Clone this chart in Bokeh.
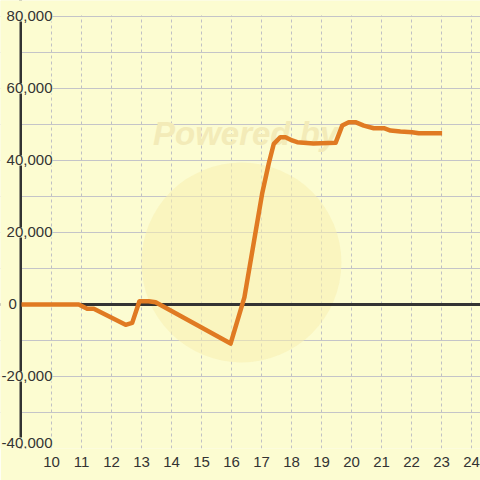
from bokeh.plotting import figure
from bokeh.models import Range1d, FixedTicker, Label, ColumnDataSource
from bokeh.embed import file_html
from bokeh.resources import INLINE

# ---- data ----
hours = [9.0, 10.91, 11.19, 11.41, 12.47, 12.69, 12.93, 13.24, 13.47, 15.97,
         16.43, 17.02, 17.24, 17.41, 17.63, 17.8, 18.02, 18.19, 18.73, 19.47,
         19.69, 19.91, 20.13, 20.41, 20.74, 21.08, 21.3, 21.63, 22.02, 22.24, 23.02]
values = [0, 0, -1200, -1200, -5650, -5100, 900, 900, 600, -10850,
          2000, 30750, 39080, 44640, 46470, 46470, 45560, 45080, 44700, 44900,
          49700, 50640, 50640, 49700, 48970, 48970, 48330, 48060, 47860, 47580, 47580]
x_ticks = list(range(10, 25))
y_label_ticks = [80000, 60000, 40000, 20000, 0, -20000, -40000]
y_grid_ticks = list(range(-40000, 80001, 10000))

BG = "#fcfcd1"
INK = "#333333"
FONT = "Liberation Sans"
X_MIN, X_MAX = 8.3, 24.3
Y_MIN, Y_MAX = -40000, 84444
AXIS_X = 8.983   # where the vertical axis line sits (data units)
Y_TOP = 80000

p = figure(width=480, height=480, output_backend="svg", toolbar_location=None,
           x_range=Range1d(X_MIN, X_MAX), y_range=Range1d(Y_MIN, Y_MAX),
           y_axis_location=None,
           min_border_left=0, min_border_right=0, min_border_top=0, min_border_bottom=32)
p.background_fill_color = BG
p.border_fill_color = BG
p.outline_line_color = None

# grids
p.ygrid.ticker = FixedTicker(ticks=y_grid_ticks)
p.ygrid.grid_line_color = "#c4c4c8"
p.ygrid.grid_line_width = 1
p.xgrid.ticker = FixedTicker(ticks=x_ticks)
p.xgrid.grid_line_color = "#c0c0c4"
p.xgrid.grid_line_dash = "3 3"
p.xgrid.grid_line_width = 1

# x axis
p.xaxis.ticker = FixedTicker(ticks=x_ticks)
p.xaxis.axis_line_color = None
p.xaxis.major_tick_line_color = None
p.xaxis.minor_tick_line_color = None
p.xaxis.major_label_standoff = 2
p.xaxis.major_label_text_font = FONT
p.xaxis.major_label_text_font_size = "15px"
p.xaxis.major_label_text_color = INK

# watermark
p.add_layout(Label(x=16.47, y=47500, text="Powered by", text_align="center",
                   text_baseline="middle", text_font=FONT, text_font_size="33px",
                   text_font_style="bold italic", text_color="#f3ebb8", level="underlay"))
p.scatter(x=[16.33], y=[11670], size=200, marker="circle",
          fill_color="#f8eeb0", fill_alpha=0.55, line_color=None)

# zero line and y axis line
p.hspan(y=[0], line_color=INK, line_width=3)
p.vspan(x=[AXIS_X], line_color=INK, line_width=3)
# mask the grid outside the chart area (left of the axis, above the top)
p.hstrip(y0=[Y_TOP + 200], y1=[Y_MAX], fill_color=BG, line_color=None)
p.vstrip(x0=[X_MIN], x1=[AXIS_X - 0.05], fill_color=BG, line_color=None)

# data line
src = ColumnDataSource(dict(x=hours, y=values))
p.line("x", "y", source=src, line_color="#e07a22", line_width=4.5, line_join="round")

# y tick labels
for v in y_label_ticks:
    off = 6 if v == -40000 else 0
    if v == 0:
        lx, align = 8.567, "left"
    else:
        lx, align = 10.033, "right"
    p.add_layout(Label(x=lx, y=v, y_offset=off, text=f"{v:,}", text_align=align,
                       text_baseline="middle", text_font=FONT, text_font_size="15px",
                       text_color=INK, background_fill_color=BG))

open("out.html", "w").write(file_html(p, INLINE))
